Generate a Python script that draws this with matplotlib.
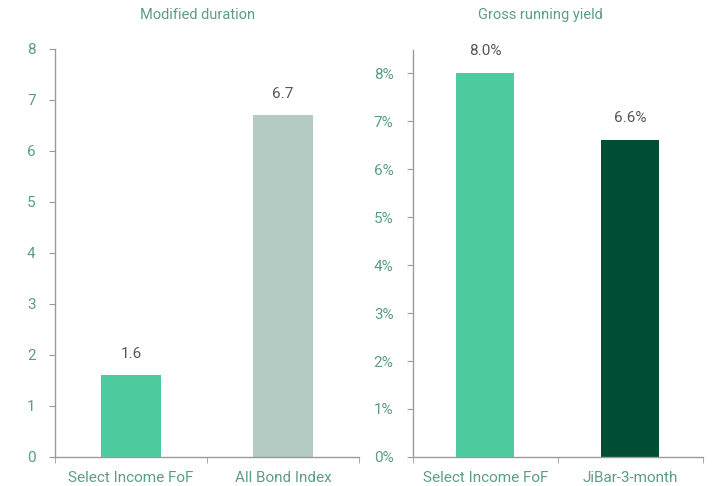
import matplotlib.pyplot as plt
import matplotlib.ticker as mticker

# data
dur_labels = ['Select Income FoF', 'All Bond Index']
dur_values = [1.6, 6.7]
yield_labels = ['Select Income FoF', 'JiBar-3-month']
yield_values = [8.0, 6.6]

plt.rcParams['font.family'] = ['Roboto', 'DejaVu Sans']

green_txt = '#5c9e82'
grey_txt = '#555555'
spine_col = '#9a9a9a'

fig = plt.figure(figsize=(7.13, 4.86), dpi=100)
ax1 = fig.add_axes([0.0771, 0.0597, 0.4264, 0.8395])
ax2 = fig.add_axes([0.5792, 0.0597, 0.4067, 0.8374])


def style_axis(ax):
    for s in ['top', 'right']:
        ax.spines[s].set_visible(False)
    for s in ['left', 'bottom']:
        ax.spines[s].set_color(spine_col)
        ax.spines[s].set_linewidth(1)
    ax.set_xlim(-0.5, 1.5)
    ax.xaxis.set_minor_locator(mticker.FixedLocator([-0.5, 0.5, 1.5]))
    ax.tick_params(axis='x', which='major', length=0, pad=10, labelsize=11, labelcolor=green_txt)
    ax.tick_params(axis='x', which='minor', length=4, color=spine_col)
    ax.tick_params(axis='y', length=4, color=spine_col, pad=10, labelsize=11, labelcolor=green_txt)


# left panel
ax1.bar(range(len(dur_values)), dur_values, width=0.4, color=['#4ecb9e', '#b3cbc3'])
style_axis(ax1)
ax1.set_ylim(0, 8)
ax1.set_yticks(range(0, 9))
ax1.set_xticks(range(len(dur_labels)))
ax1.set_xticklabels(dur_labels)
for i, v in enumerate(dur_values):
    ax1.text(i, v + 0.42, '%.1f' % v, ha='center', va='center', fontsize=11, color=grey_txt)

# right panel
ax2.bar(range(len(yield_values)), yield_values, width=0.4, color=['#4ecb9e', '#004d35'])
style_axis(ax2)
ax2.set_ylim(0, 8.48)
ax2.set_yticks(range(0, 9))
ax2.yaxis.set_major_formatter(mticker.FuncFormatter(lambda x, p: '%d%%' % x))
ax2.set_xticks(range(len(yield_labels)))
ax2.set_xticklabels(yield_labels)
for i, v in enumerate(yield_values):
    ax2.text(i, v + 0.46, '%.1f%%' % v, ha='center', va='center', fontsize=11, color=grey_txt)

fig.text(198 / 713, 1 - 15 / 486, 'Modified duration', ha='center', va='center', fontsize=10.5, color=green_txt)
fig.text(540 / 713, 1 - 15 / 486, 'Gross running yield', ha='center', va='center', fontsize=10.5, color=green_txt)

fig.savefig('out.png', dpi=100)
